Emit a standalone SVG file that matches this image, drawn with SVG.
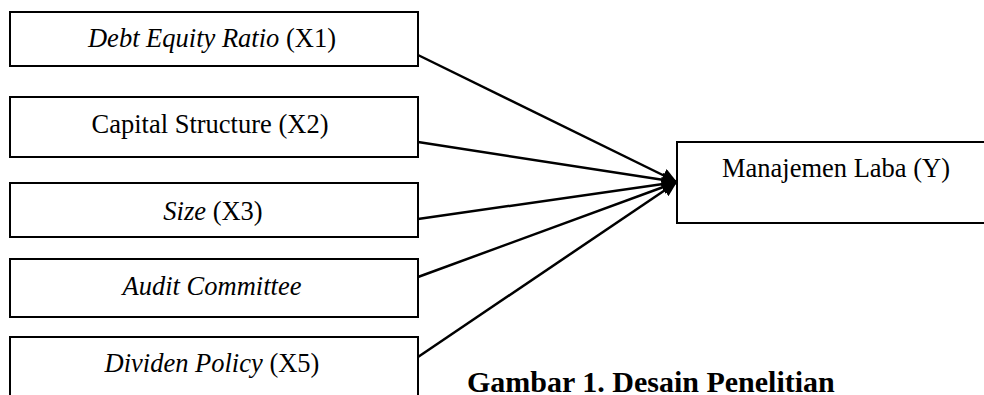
<svg xmlns="http://www.w3.org/2000/svg" width="984" height="395" viewBox="0 0 984 395">
<style>
.box{fill:#fff;stroke:#000;stroke-width:2}
.lbl{font-family:"Liberation Serif","Times New Roman",serif;font-size:26.5px;fill:#000;text-anchor:middle}
.it{font-style:italic}
.con{stroke:#000;stroke-width:2.5;fill:none;marker-end:url(#ah)}
.title{font-family:"Liberation Serif","Times New Roman",serif;font-size:30px;font-weight:bold;fill:#000}
</style>
<defs>
<marker id="ah" markerUnits="userSpaceOnUse" markerWidth="16" markerHeight="14" refX="15" refY="7" orient="auto">
<path d="M0,0 L15,7 L0,14 Z" fill="#000"/>
</marker>
</defs>
<rect width="984" height="395" fill="#fff"/>
<g id="x1"><rect class="box" x="10" y="12" width="408" height="54"/><text class="lbl" x="212" y="47"><tspan class="it">Debt Equity Ratio</tspan> (X1)</text></g>
<g id="x2"><rect class="box" x="10" y="97" width="408" height="60"/><text class="lbl" x="210" y="133">Capital Structure (X2)</text></g>
<g id="x3"><rect class="box" x="10" y="183" width="408" height="54"/><text class="lbl" x="213" y="220"><tspan class="it">Size</tspan> (X3)</text></g>
<g id="x4"><rect class="box" x="10" y="259" width="408" height="58"/><text class="lbl it" x="212" y="295">Audit Committee</text></g>
<g id="x5"><rect class="box" x="10" y="337" width="408" height="70"/><text class="lbl" x="212" y="372"><tspan class="it">Dividen Policy</tspan> (X5)</text></g>
<g id="y"><rect class="box" x="677" y="142" width="320" height="81"/><text class="lbl" x="836" y="177">Manajemen Laba (Y)</text></g>
<g id="connectors">
<line class="con" x1="418" y1="55" x2="677" y2="182"/>
<line class="con" x1="418" y1="142" x2="677" y2="182"/>
<line class="con" x1="418" y1="219" x2="677" y2="182"/>
<line class="con" x1="418" y1="277" x2="677" y2="182"/>
<line class="con" x1="418" y1="357" x2="677" y2="182"/>
</g>
<text class="title" x="467" y="392">Gambar 1. Desain Penelitian</text>
</svg>
